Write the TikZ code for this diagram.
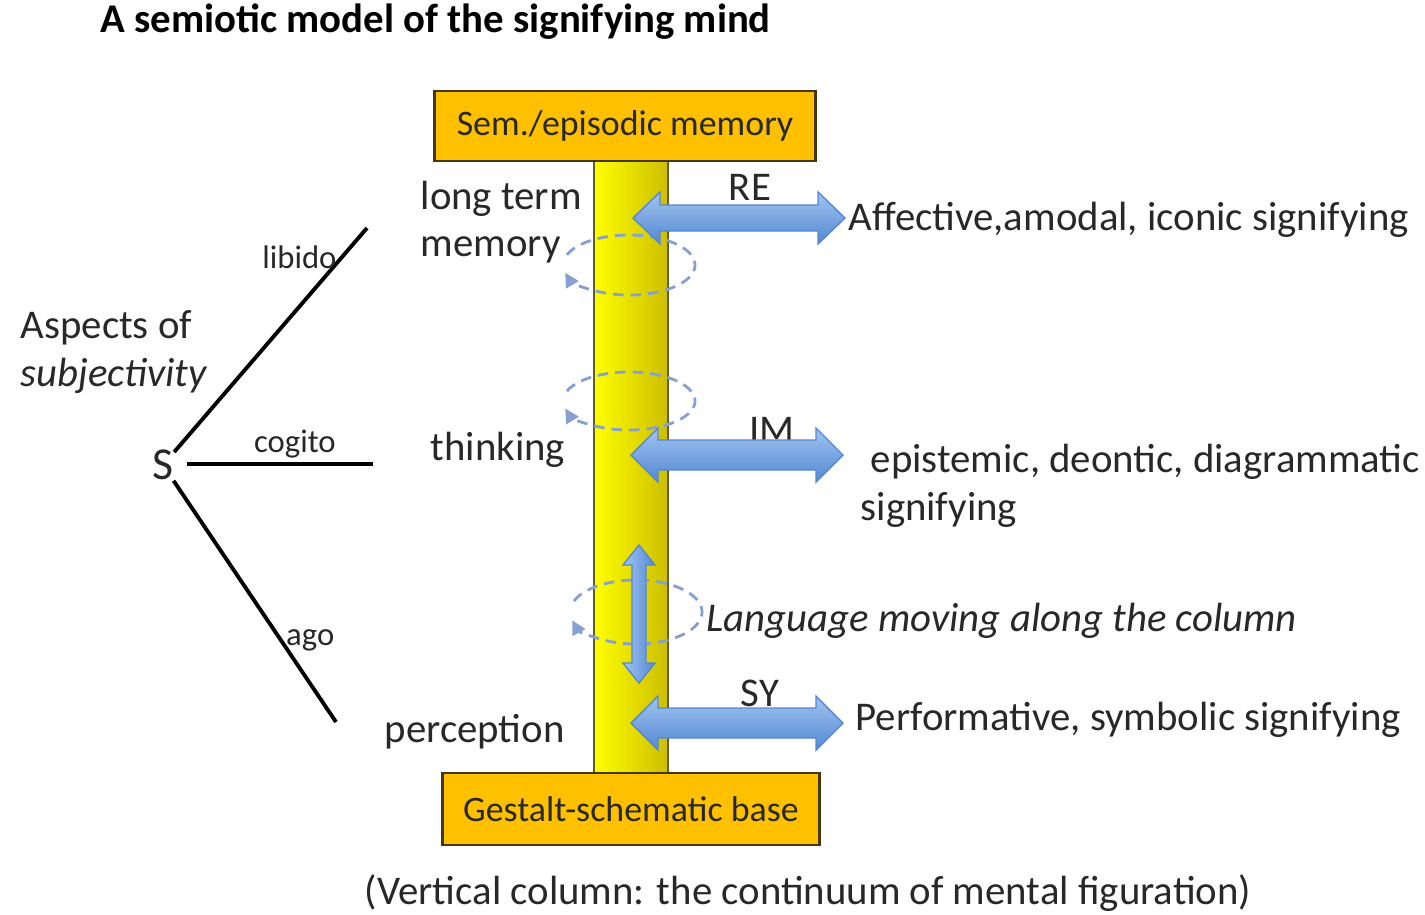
\documentclass[tikz,border=0pt]{standalone}
\usepackage{fontspec}
\setmainfont{Carlito}
\usetikzlibrary{arrows.meta, positioning}

\definecolor{boxgold}{RGB}{255,192,0}
\definecolor{boxedge}{RGB}{70,55,10}
\definecolor{colyellow}{RGB}{255,255,0}
\definecolor{coldark}{RGB}{205,190,0}
\definecolor{arrowlight}{RGB}{160,196,240}
\definecolor{arrowdark}{RGB}{84,136,212}
\definecolor{loopblue}{RGB}{135,160,210}
\definecolor{textgray}{RGB}{40,40,40}

\begin{document}
\begin{tikzpicture}[
    x=0.01cm, y=-0.01cm,
    >=Stealth,
    % Plain Text Style
    txt/.style={font=\fontsize{11.6}{13.5}\selectfont, text=textgray, inner sep=0pt, align=left},
    % Branch Label Style
    small/.style={font=\fontsize{9.3}{10}\selectfont, text=textgray, inner sep=1pt},
    % Memory Box Style
    membox/.style={draw=boxedge, fill=boxgold, thick, rectangle, minimum height=0.7cm, font=\fontsize{10.2}{12}\selectfont, text=textgray},
    % Column Style
    column/.style={draw=olive!60!black, left color=colyellow, right color=coldark, minimum width=0.74cm, minimum height=6.13cm, inner sep=0pt},
    % Dashed Loop Style
    loop/.style={draw=loopblue, densely dashed, thick, -{Triangle[length=4pt, width=4pt]}},
    % Subject Branch Style
    branch/.style={draw=black, line width=1.1pt},
    % Fat Double Arrow (half length, half shaft, half head)
    pics/fatarrow/.style n args={3}{code={
        \path[draw=arrowdark, top color=arrowlight, bottom color=arrowdark]
          (-#1,0) -- (-#1+27,-#3) -- (-#1+27,-#2) -- (#1-27,-#2) -- (#1-27,-#3) -- (#1,0)
          -- (#1-27,#3) -- (#1-27,#2) -- (-#1+27,#2) -- (-#1+27,#3) -- cycle;
    }},
    % Thin Vertical Double Arrow
    pics/slimarrow/.style n args={3}{code={
        \path[draw=arrowdark, left color=arrowlight, right color=arrowdark]
          (0,-#1) -- (-#3,-#1+20) -- (-#2,-#1+20) -- (-#2,#1-20) -- (-#3,#1-20) -- (0,#1)
          -- (#3,#1-20) -- (#2,#1-20) -- (#2,-#1+20) -- (#3,-#1+20) -- cycle;
    }}
]

\useasboundingbox (0,0) rectangle (1425,914);

% ================= Nodes =================

% 1. Title
\node[txt, anchor=west, font=\fontsize{11.6}{13.5}\selectfont\bfseries, text=black] (title) at (100,22) {A semiotic model of the signifying mind};

% 2. Column with top and base
\node[column] (col) at (631,466) {};
\node[membox, minimum width=3.8cm] (sem) at (625,126) {Sem./episodic memory};
\node[membox, minimum width=3.77cm, minimum height=0.72cm] (base) at (631,809) {Gestalt-schematic base};
\node[txt] (caption) at (808,893) {(Vertical column: the continuum of mental figuration)};

% 3. Levels (left of column)
\node[txt, anchor=west] (ltm) at (420,222) {long term\\memory};
\node[txt, anchor=west] (think) at (430,450) {thinking};
\node[txt, anchor=west] (perc) at (384,732) {perception};

% 4. Subject and its aspects
\node[txt, anchor=west] (aspects) at (20,352) {Aspects of\\\textit{subjectivity}};
\node[txt, font=\fontsize{13}{15}\selectfont] (S) at (163,465) {S};
\coordinate (libEnd) at (367,228);
\coordinate (cogStart) at (187,464);
\coordinate (cogEnd) at (373,464);
\coordinate (agoEnd) at (336,722);

% 5. Loop centres and arrow centres
\coordinate (loopA) at (629,265);
\coordinate (loopB) at (629,401);
\coordinate (loopC) at (636,612);
\coordinate (reArr) at (739,218);
\coordinate (imArr) at (737,455);
\coordinate (syArr) at (737,723);
\coordinate (langArr) at (639,614);

\node[txt] (reLab) at (750,187) {RE};
\node[txt] (imLab) at (772,430) {IM};
\node[txt] (syLab) at (760,693) {SY};

% 6. Kinds of signifying
\node[txt, anchor=west] (affect) at (848,220) {Affective,amodal, iconic signifying};
\node[txt, anchor=west] (epist) at (860,486) {\hspace{0.1cm}epistemic, deontic, diagrammatic\\signifying};
\node[txt, anchor=west] (langTxt) at (706,621) {\textit{Language moving along the column}};
\node[txt, anchor=west] (perf) at (855,720) {Performative, symbolic signifying};

% ================= Connections =================

% Subject branches
\draw[branch] (S) -- node[small, pos=0.87, left] {libido} (libEnd);
\draw[branch] (cogStart) -- node[small, pos=0.58, above] {cogito} (cogEnd);
\draw[branch] (S) -- node[small, pos=0.66, right] {ago} (agoEnd);

% Dashed loops on the column
\draw[loop] (loopA) ++(160:0.66cm and 0.30cm) arc[start angle=160, end angle=-165, x radius=0.66cm, y radius=0.30cm];
\draw[loop] (loopB) ++(160:0.66cm and 0.29cm) arc[start angle=160, end angle=-165, x radius=0.66cm, y radius=0.29cm];
\draw[loop] (loopC) ++(160:0.66cm and 0.32cm) arc[start angle=160, end angle=-165, x radius=0.66cm, y radius=0.32cm];

% Signifying arrows
\pic at (reArr) {fatarrow={106}{13}{26}};
\pic at (imArr) {fatarrow={106}{15}{27}};
\pic at (syArr) {fatarrow={106}{15}{27}};
\pic at (langArr) {slimarrow={69}{7}{16}};

\end{tikzpicture}
\end{document}
